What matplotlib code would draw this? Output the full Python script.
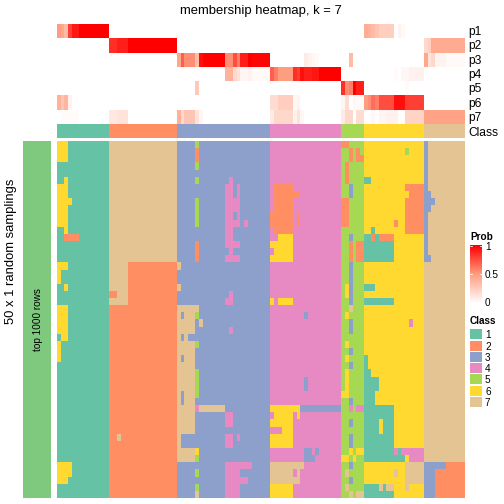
import numpy as np
import matplotlib
matplotlib.use("Agg")
import matplotlib.pyplot as plt
from matplotlib.colors import ListedColormap, LinearSegmentedColormap

plt.rcParams['font.family'] = ['Liberation Sans', 'DejaVu Sans']

# --- class colours, 1 to 7 ---
class_colors = ["#66C2A5", "#FF8E62", "#8DA0CB", "#E78AC3", "#A6D854", "#FFD92F", "#E5C494"]
class_names = ["1", "2", "3", "4", "5", "6", "7"]
row_names = ["p1", "p2", "p3", "p4", "p5", "p6", "p7"]
prob_ticks = [0, 0.5, 1]

# --- membership values, one block of columns per class ---
p1 = [.5, .45, .35, .8, .92, .92] + [1.0]*8 + [0.0]*68 + [.42, .4, .35, .3, .25, .25, .25, .25, 0, .06, .03, 0, 0, 0, 0, 0] + [0.0]*11
p2 = [0.0]*14 + [.85, .85, .9, .9, .9] + [1.0]*13 + [0.0]*66 + [.2, .25] + [.43]*9
p3 = [0.0]*32 + [.45, .7, .55, .55, .55, .35, .95] + [1.0]*6 + [.55, .55, .75, .6, .9, .9, 1.0] + [.98]*5 \
    + [0.0]*9 + [.1, .06, .04, .03] + [0.0]*6 + [0, 0, .35, 0, 0, 0] + [0.0]*16 + [.45, .15, .2, .06, .06, .06, .03, .03, .03, .03, .03]
p4 = [0.0]*45 + [.4, .4, .2, .15, .05, .05, .07] + [.03]*5 + [.7, .6, .5, .5, .5, .5, .85, .8, .95, .9, .9, .93, .93] + [1.0]*6 \
    + [0.0]*6 + [0.0]*8 + [.03, 0, .04, .04, .07, .07, .07, .07] + [0.0]*11
p5 = [0.0]*37 + [.28] + [0.0]*38 + [.85, .55, .6, 1.0, .9, .9] + [0.0]*11 + [.03, 0, 0, 0, 0] + [0.0]*11
p6 = [.4, .3, .38, .06] + [0.0]*10 + [0.0]*18 + [0.0]*25 + [.18, .18, .25, .25, .25, .25, .04, .06] + [0.0]*11 \
    + [.05, .18, 0, .04, .03, .03] + [.5, .55, .65, .6, .75, .75, .75, .75, .95, .95, .95, .8, .8, .8, .8, .8] + [0.0]*11
p7 = [0, .02, .02, .02, .02, .02] + [0.0]*8 + [.12, .12, .15, .15, .15] + [0.0]*13 + [.4, .2, .3, .3, .3, .15, .05] + [0.0]*18 \
    + [.1, .2, .2, .2, .2, .2, .07, .15, .04] + [0.0]*10 + [.1, .2, .2, 0, .18, .18] \
    + [.01, .01, .04, .01, .05, .05, .07, .07, .07, .01, .01, .22, .22, .22, .22, .22] + [.48]*11

# --- sampled classes, 50 rows, one list per block of columns ---
block_1 = (["66611111111111"]*3 + ["11111111111111"]*2 + ["11611111111111"] + ["66611111111111"]*2
           + ["66661111111111"] + ["66611111111111"]*3 + ["11611111111111"] + ["11222211111111"]
           + ["11111111111111"]*3 + ["66611111111111"] + ["61111111111111"]*2 + ["11611111111111"]
           + ["11111111111111"]*2 + ["66611111111111"]*4 + ["16611111111111"] + ["61111111111111"]*3
           + ["11111111111111"]*14 + ["66661111111111"]*2 + ["66611111111111"] + ["11111111111111"]*2)

block_2 = (["777777777777777777"]*17 + ["777772222222222222"]*4 + ["227772222222222222"]
           + ["777772222222222222"] + ["222222222222222222"]*18 + ["227222222222222222"]
           + ["222222222222222222"]*8)

block_3 = ["3333353333333333333333333", "3333323333333333333333333", "3333323333333333333333333",
           "3333353333333333333333333", "3333333333333333333333333", "3333353333333343333333333",
           "3333333333333443433333333", "3333333333333443433333333", "3333353333333444433333333",
           "3333353333333444433333333", "3333353333333443433333333", "3333353333333444434333333",
           "3333333333333443333333333", "3333333333333443333333333", "3333323333333444433333333",
           "3333323333333343333333333", "3333323333333444433333333", "7333333333333333333333333",
           "3333333333333333333333333", "3333333333333333333333333", "7333333333333333333333333",
           "3333333333333343333333333", "3333333333333443333333333", "7777773333333333333333333",
           "7377753333333333333333333", "7777737333333333333333333", "7777733333333343333333333",
           "7373333333333333333333333", "7777753333333333333333333", "7777733333333333333333333",
           "7377733333333333333333333", "7777733333333333333333333", "7777753333333333333333333",
           "7777753333333333333333333", "7777753333333333333333333", "7377753333333333333333333",
           "7377733333333333333333333", "7777747777777333333333333", "7777733333333443333333333",
           "7777733333333443333333333", "7777733333333333333333333", "7333333333333443433333333",
           "7333333333333443333333333", "7777763333333333333333333", "7777753333333333333333333",
           "3333333333333444444433333", "3333353333333444433333333", "3333333333333444444333333",
           "3333353333333444433333333", "3333373333333444433333333"]

block_4 = (["4444444444444444444"]*6 + ["4222224444444444444"] + ["4222222244444444444"]
           + ["4222224444444444444"]*2 + ["2222224244444444444"]*2 + ["4222224444444444444"]
           + ["4466664444444444444"] + ["6666664444444444444"] + ["4666664444444444444"]
           + ["6666664444444444444"] + ["4444444444444444444"]*5 + ["6466664444444444444"]
           + ["4444444444444444444"] + ["4444444443444444444"] + ["4444444444444444444"]*8
           + ["4444444443444444444"]*2 + ["4444444444444444444"]*2 + ["6666666633333333333"]
           + ["4666664644444444444"] + ["6666664444444444444"] + ["4446664444444444444"]
           + ["6666664444444444444"]*2 + ["4444444443343444444"] + ["4444444443334444444"]
           + ["7777777774444444444"] + ["7777774744444444444"] + ["7777777744444444444"]
           + ["6666664444444444444"]*2)

block_5 = ["225555", "552525", "552522", "525555", "525555", "525555", "553555", "553555", "225555", "225555",
           "225555", "225555", "555555", "553555", "552522", "552522", "552522", "553555", "553555", "553555",
           "563555", "563555", "553555", "557555", "565555", "553555", "553555", "555555", "565555", "553555",
           "565555", "553555", "565555", "565555", "565555", "665555", "553555", "554544", "555555", "553555",
           "555555", "553555", "553555", "556566", "665655", "553555", "575555", "553555", "575555", "557577"]

block_6 = ["6666666666666666", "6666666666656666", "6666666666666666", "6666666666666666", "6666666666666666",
           "1166666666666666", "6666666666622222", "6666666666662222", "6666666666622222", "6666666666622222",
           "6666666666622222", "6666666626622222", "6616666666622222", "1121222266666666", "1111111166666666",
           "1111111166666666", "1111111166666666", "6666666666666666", "6666666666666666", "6666666666666666",
           "1116666666666666", "6666666666666666", "1111111166666666", "6666666666666666", "6666666666666666",
           "6666666666664666", "6666666666666666", "6666666666666666", "6666666666666666", "6666666666666666",
           "1666666666666666", "1666666666666666", "1166666666666666", "1111666666666666", "1111666666666666",
           "1116666666666666", "1116666666666666", "1111111166666666", "1111111166666666", "1111611166666666",
           "1111611166666666", "1111111166666666", "1111111166666666", "1111111141444444", "1111111111164444",
           "6666666666677777", "6666666676677777", "6666666666677777", "1111717766676666", "1111111166666666"]

block_7 = (["37777777777"]*7 + ["33777777777"] + ["33377777777"] + ["33777777777"] + ["37777777777"]*6
           + ["33777777777"] + ["77777777777"]*28 + ["33333322222"] + ["33322222222"]*4)

blocks = [block_1, block_2, block_3, block_4, block_5, block_6, block_7]
class_cols = [14, 18, 25, 19, 6, 16, 11]

# --- build matrices ---
prob = np.array([p1, p2, p3, p4, p5, p6, p7], dtype=float)
samples = np.array([[int(ch) for ch in "".join(r)] for r in zip(*blocks)])
class_row = np.repeat(np.arange(1, 8), class_cols)[None, :]

prob_cmap = LinearSegmentedColormap.from_list("prob", ["#FFFFFF", "#FF9E81", "#FF0000"])
class_cmap = ListedColormap(class_colors)

W, H = 504, 504
fig = plt.figure(figsize=(7, 7), dpi=72)


def px_axes(x0, y0, x1, y1):
    # axes from pixel box, y counted from the top
    ax = fig.add_axes([x0 / W, 1 - y1 / H, (x1 - x0) / W, (y1 - y0) / H])
    ax.set_xticks([])
    ax.set_yticks([])
    for s in ax.spines.values():
        s.set_visible(False)
    return ax


def px_text(x, y, s, **kw):
    fig.text(x / W, 1 - y / H, s, color="black", **kw)


# --- membership rows ---
ax = px_axes(57, 24, 465, 124)
ax.imshow(prob, aspect="auto", cmap=prob_cmap, vmin=0, vmax=1, interpolation="nearest")
for i, name in enumerate(row_names):
    px_text(468.5, 25 + 14.29 * (i + 0.5), name, fontsize=12, va="center", ha="left")

# --- class row ---
ax = px_axes(57, 124, 465, 138)
ax.imshow(class_row, aspect="auto", cmap=class_cmap, vmin=0.5, vmax=7.5, interpolation="nearest")
px_text(468.5, 132.5, "Class", fontsize=12, va="center", ha="left")

# --- main body ---
ax = px_axes(57, 141, 465, 498)
ax.imshow(samples, aspect="auto", cmap=class_cmap, vmin=0.5, vmax=7.5, interpolation="nearest")

# --- left annotation ---
ax = px_axes(23, 141, 51, 498)
ax.set_facecolor("#7FC97F")
px_text(38, 320, "top 1000 rows", fontsize=10, rotation=90, va="center", ha="center")
px_text(11.5, 251, "50 x 1 random samplings", fontsize=13, rotation=90, va="center", ha="center")

px_text(261, 11, "membership heatmap, k = 7", fontsize=13, va="center", ha="center")

# --- prob legend ---
px_text(470, 236.5, "Prob", fontsize=10, fontweight="bold", va="center", ha="left")
ax = px_axes(470, 244, 482, 302)
grad = np.linspace(1, 0, 58)[:, None]
ax.imshow(grad, aspect="auto", cmap=prob_cmap, vmin=0, vmax=1, extent=[0, 1, -0.035, 1.0])
ax.set_ylim(0, 1.035)
for t in prob_ticks:
    if t > 0:
        ax.plot([0, 0.2], [t, t], color="white", lw=0.8)
        ax.plot([0.8, 1], [t, t], color="white", lw=0.8)
    px_text(485, 303 - 56 * t, str(t), fontsize=10, va="center", ha="left")
ax.set_xlim(0, 1)

# --- class legend ---
px_text(470, 320.5, "Class", fontsize=10, fontweight="bold", va="center", ha="left")
for i, name in enumerate(class_names):
    ytop = 329.3 + 11.27 * i
    ax = px_axes(470, ytop, 481.5, ytop + 10)
    ax.imshow([[i + 1]], aspect="auto", cmap=class_cmap, vmin=0.5, vmax=7.5)
    px_text(485, ytop + 6, name, fontsize=10, va="center", ha="left")

fig.savefig("out.png", dpi=72)
